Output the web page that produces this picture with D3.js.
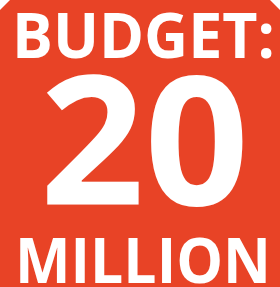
<!DOCTYPE html>
<html><head><meta charset="utf-8">
<script src="https://cdn.jsdelivr.net/npm/d3@7"></script>
<style>html,body{margin:0;padding:0;background:#fff;overflow:hidden}</style>
</head><body>
<script>
const lines = ["BUDGET:", "20", "MILLION"];
const fontSizes = [62, 180, 62];
const W = 280, H = 287;
const svg = d3.select("body").append("svg").attr("width", W).attr("height", H);
const cut = 10;
svg.append("path")
  .attr("d", d3.line()([[cut,0],[W-cut,0],[W,cut],[W,H],[0,H],[0,cut]]) + "Z")
  .attr("fill", "#e84326");
const baselines = [58, 205, 283];
const spans = [[12, 275], [40, 249], [15, 271]];
svg.selectAll("text.l").data(lines).join("text")
  .attr("class", "l")
  .attr("x", (d, i) => spans[i][0])
  .attr("y", (d, i) => baselines[i])
  .attr("textLength", (d, i) => spans[i][1] - spans[i][0])
  .attr("lengthAdjust", "spacingAndGlyphs")
  .attr("font-family", "'Open Sans', sans-serif")
  .attr("font-weight", 700)
  .attr("font-size", (d, i) => fontSizes[i])
  .attr("fill", "#fff")
  .text(d => d);
</script>
</body></html>
